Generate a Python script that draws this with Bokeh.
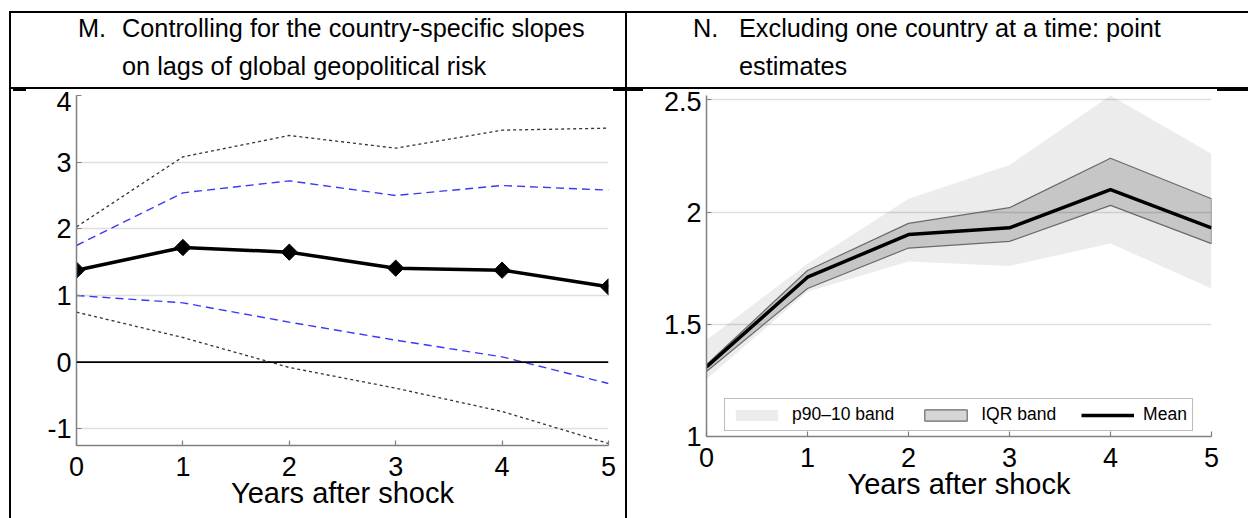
import math

from bokeh.plotting import figure
from bokeh.layouts import row, column
from bokeh.models import (Range1d, FixedTicker, NumeralTickFormatter, Span,
                          Legend, LegendItem, Div)
from bokeh.embed import file_html
from bokeh.resources import INLINE

FONT = "Liberation Sans"

years = [0, 1, 2, 3, 4, 5]

# Panel M: response with country-specific slopes on lagged global GPR
m_coef = [1.38, 1.72, 1.65, 1.41, 1.38, 1.13]
m_hi68 = [1.75, 2.54, 2.72, 2.50, 2.65, 2.58]
m_lo68 = [1.00, 0.89, 0.60, 0.33, 0.08, -0.32]
m_hi90 = [2.03, 3.08, 3.40, 3.21, 3.48, 3.51]
m_lo90 = [0.75, 0.37, -0.08, -0.39, -0.74, -1.22]
m_yticks = [-1, 0, 1, 2, 3, 4]

# Panel N: leave-one-country-out point estimates
n_mean = [1.31, 1.71, 1.90, 1.93, 2.10, 1.93]
n_p75 = [1.32, 1.74, 1.95, 2.02, 2.24, 2.06]
n_p25 = [1.29, 1.66, 1.84, 1.87, 2.03, 1.86]
n_p90 = [1.43, 1.77, 2.06, 2.21, 2.52, 2.26]
n_p10 = [1.255, 1.645, 1.78, 1.76, 1.86, 1.66]
n_yticks = [1, 1.5, 2, 2.5]

title_m = ["M.", "Controlling for the country-specific slopes",
           "on lags of global geopolitical risk"]
title_n = ["N.", "Excluding one country at a time: point", "estimates"]
x_title = "Years after shock"
legend_labels = ["p90\u201310 band", "IQR band", "Mean"]

AXIS_GREY = "#808080"
GRID_GREY = "#dedede"
HEAD_H = 91          # height of the header strip
BODY_H = 518 - HEAD_H


def make_fig(width, height, x_rng, y_rng, left, right, top, bottom):
    return figure(width=width, height=height, x_range=x_rng, y_range=y_rng,
                  output_backend="svg", toolbar_location=None,
                  min_border_left=left, min_border_right=width - right,
                  min_border_top=top, min_border_bottom=height - bottom,
                  background_fill_color="white", border_fill_color="white",
                  outline_line_color=None, margin=0)


def style_axes(p, yticks):
    for ax in (p.xaxis[0], p.yaxis[0]):
        ax.axis_line_color = AXIS_GREY
        ax.axis_line_width = 1.5
        ax.major_tick_line_color = AXIS_GREY
        ax.major_tick_line_width = 1.2
        ax.major_tick_in = 5
        ax.major_tick_out = 0
        ax.minor_tick_line_color = None
        ax.major_label_text_font = FONT
        ax.major_label_text_font_size = "27px"
        ax.major_label_text_color = "black"
    p.xaxis.ticker = FixedTicker(ticks=years)
    p.yaxis.ticker = FixedTicker(ticks=yticks)
    p.xaxis.major_label_standoff = 11
    p.yaxis.major_label_standoff = 5
    p.xaxis.axis_label = x_title
    p.xaxis.axis_label_text_font = FONT
    p.xaxis.axis_label_text_font_size = "29px"
    p.xaxis.axis_label_text_font_style = "normal"
    p.xaxis.axis_label_text_color = "black"
    p.xaxis.axis_label_standoff = -2
    p.xgrid.visible = False
    p.ygrid.grid_line_color = GRID_GREY
    p.ygrid.grid_line_width = 1.5


def rule(x0, x1, y0, y1):
    return (f'<div style="position:absolute;left:{x0}px;top:{y0}px;'
            f'width:{x1 - x0}px;height:{y1 - y0}px;background:#000;"></div>')


def head_text(x, yc, s, size=25.3):
    return (f'<div style="position:absolute;left:{x}px;top:{yc - 17}px;height:34px;'
            f'line-height:34px;font-family:\'{FONT}\',Arial,sans-serif;'
            f'font-size:{size}px;color:#000;white-space:nowrap;">{s}</div>')


# ---------------- header strip (table cells with panel titles) ----------------
head_html = ('<div style="position:relative;width:1248px;height:%dpx;">' % HEAD_H
             + rule(10, 1248, 11, 13) + rule(10, 1248, 87, 89)
             + rule(9, 11, 11, HEAD_H) + rule(625, 627, 11, HEAD_H)
             + rule(13, 26, 89, 91) + rule(613, 643, 89, 91) + rule(1217, 1248, 89, 91)
             + head_text(78, 28, title_m[0]) + head_text(122, 28, title_m[1])
             + head_text(122, 66, title_m[2])
             + head_text(693, 28, title_n[0]) + head_text(739, 28, title_n[1])
             + head_text(739, 66, title_n[2])
             + '</div>')
header = Div(text=head_html, width=1248, height=HEAD_H, margin=0)

left_rule = Div(text=('<div style="position:relative;width:12px;height:%dpx;">' % BODY_H
                      + rule(9, 11, 0, BODY_H) + '</div>'),
                width=12, height=BODY_H, margin=0)
mid_rule = Div(text=('<div style="position:relative;width:2px;height:%dpx;">' % BODY_H
                     + rule(0, 2, 0, BODY_H) + '</div>'),
               width=2, height=BODY_H, margin=0)

# ---------------- Panel M ----------------
pm = make_fig(613, BODY_H, Range1d(0, 5), Range1d(-1.25, 4), 64, 596, 4, 354)
style_axes(pm, m_yticks)
pm.yaxis.formatter = NumeralTickFormatter(format="0")
pm.ygrid.ticker = FixedTicker(ticks=m_yticks)

pm.line(years, m_hi90, line_color="#333333", line_width=1.3, line_dash="3 3")
pm.line(years, m_lo90, line_color="#333333", line_width=1.3, line_dash="3 3")
pm.line(years, m_hi68, line_color="#3a3af2", line_width=1.4, line_dash="8 5")
pm.line(years, m_lo68, line_color="#3a3af2", line_width=1.4, line_dash="8 5")
pm.add_layout(Span(location=0, dimension="width", line_color="black", line_width=1.6))
pm.line(years, m_coef, line_color="black", line_width=3.5)
pm.scatter(years, m_coef, marker="square", angle=math.pi / 4, size=11.5,
           fill_color="black", line_color="black", line_width=1)

# ---------------- Panel N ----------------
N_H = BODY_H - 9
pn = make_fig(621, N_H, Range1d(0, 5), Range1d(1, 2.52), 79, 584, 4, 345)
style_axes(pn, n_yticks)
pn.yaxis.formatter = NumeralTickFormatter(format="0.[0]")
pn.ygrid.ticker = FixedTicker(ticks=[1.5, 2, 2.5])

band_x = years + years[::-1]
r_p90 = pn.patch(band_x, n_p90 + n_p10[::-1], fill_color="black", fill_alpha=0.075,
                 line_color=None)
r_iqr = pn.patch(band_x, n_p75 + n_p25[::-1], fill_color="black", fill_alpha=0.16,
                 line_color="#6a6a6a", line_width=1.2)
r_mean = pn.line(years, n_mean, line_color="black", line_width=3.5)

legend = Legend(items=[LegendItem(label=legend_labels[0], renderers=[r_p90]),
                       LegendItem(label=legend_labels[1], renderers=[r_iqr]),
                       LegendItem(label=legend_labels[2], renderers=[r_mean])],
                location=(18, 5), orientation="horizontal",
                glyph_width=53, glyph_height=14, label_standoff=9, spacing=25,
                padding=5, margin=0, label_height=18,
                label_text_font=FONT, label_text_font_size="17.5px",
                label_text_color="black",
                border_line_color="#7a7a7a", border_line_width=1.5,
                background_fill_color="white", background_fill_alpha=1.0)
pn.add_layout(legend)

body = row(left_rule, pm, mid_rule, pn, spacing=0)
layout = column(header, body, spacing=0)
open("out.html", "w").write(file_html(layout, INLINE))
